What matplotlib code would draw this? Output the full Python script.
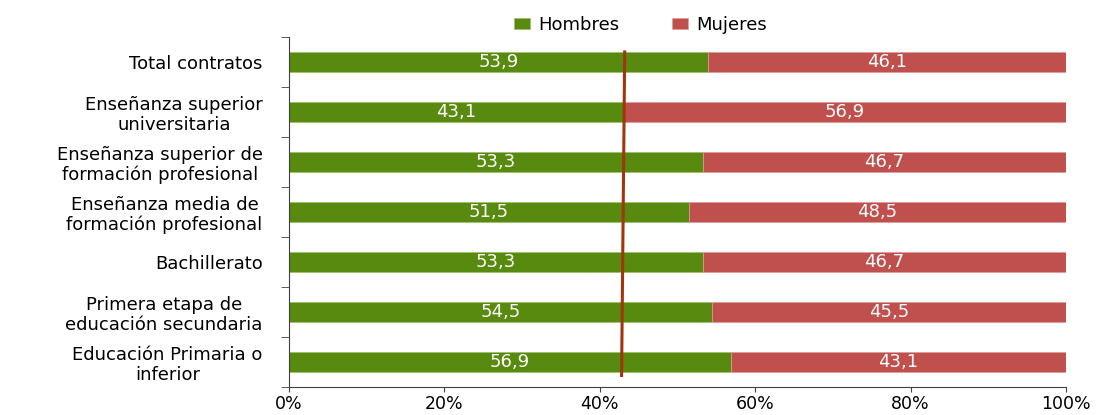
import matplotlib
matplotlib.use("Agg")
import matplotlib.pyplot as plt
from matplotlib.ticker import FixedLocator, PercentFormatter

categorias = [
    "Total contratos",
    "Enseñanza superior\nuniversitaria",
    "Enseñanza superior de\nformación profesional",
    "Enseñanza media de\nformación profesional",
    "Bachillerato",
    "Primera etapa de\neducación secundaria",
    "Educación Primaria o\ninferior",
]
hombres = [53.9, 43.1, 53.3, 51.5, 53.3, 54.5, 56.9]
mujeres = [46.1, 56.9, 46.7, 48.5, 46.7, 45.5, 43.1]
# reference line (slightly slanted in the original): x at top and bottom
linea_x = [43.2, 42.8]

VERDE = "#578A0E"
ROJO = "#C0504D"
FS = 13

plt.rcParams["font.family"] = ["DejaVu Sans"]
fig = plt.figure(figsize=(10.99, 4.15), dpi=100)
ax = fig.add_axes([0.263, 0.0675, 0.707, 0.8435])

y = list(range(len(categorias)))
bh = ax.barh(y, hombres, height=0.4, color=VERDE, edgecolor="#9dbf6a", lw=0.5,
             label="Hombres")
bm = ax.barh(y, mujeres, left=hombres, height=0.4, color=ROJO,
             edgecolor="#e09a98", lw=0.5, label="Mujeres")
for yi, h, m in zip(y, hombres, mujeres):
    ax.text(h / 2, yi, f"{h:.1f}".replace(".", ","), ha="center", va="center",
            color="white", fontsize=FS)
    ax.text(h + m / 2, yi, f"{m:.1f}".replace(".", ","), ha="center",
            va="center", color="white", fontsize=FS)

ax.plot(linea_x, [-0.2, 6.27], color="#A0360C", lw=2.2, zorder=4)

ax.set_xlim(0, 100)
ax.set_ylim(6.5, -0.5)
ax.set_yticks(y)
ax.set_yticklabels(categorias, fontsize=FS, ha="right", multialignment="center",
                   linespacing=1.15)
ax.tick_params(axis="y", which="major", length=0, pad=19)
ax.yaxis.set_minor_locator(FixedLocator([i - 0.5 for i in range(len(y) + 1)]))
ax.tick_params(axis="y", which="minor", length=6, color="#404040")
ax.set_xticks([0, 20, 40, 60, 80, 100])
ax.xaxis.set_major_formatter(PercentFormatter(decimals=0))
ax.tick_params(axis="x", length=3.6, pad=2.5, labelsize=12.5, color="#404040")
for s in ["top", "right"]:
    ax.spines[s].set_visible(False)
for s in ["left", "bottom"]:
    ax.spines[s].set_color("#404040")

fig.legend(handles=[bh, bm], loc="center", bbox_to_anchor=(0.583, 0.94),
           ncol=2, frameon=False, fontsize=FS, handlelength=0.9,
           handleheight=0.6, columnspacing=2.9, handletextpad=0.45)

fig.savefig("out.png", dpi=100)
